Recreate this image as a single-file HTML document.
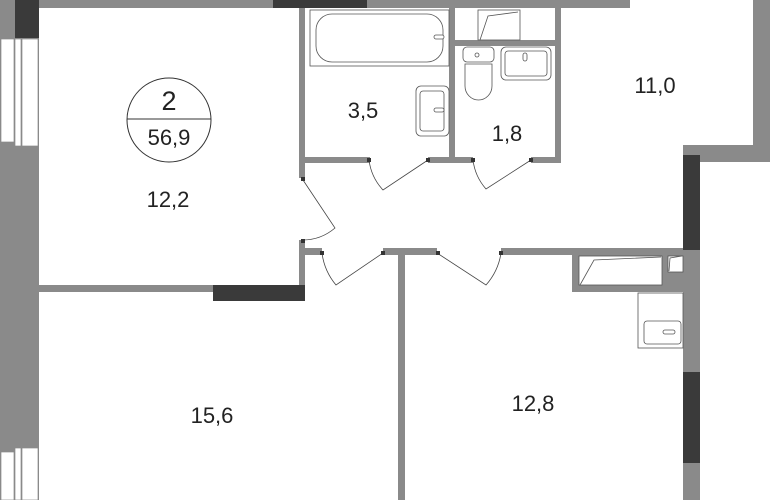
<!DOCTYPE html>
<html><head><meta charset="utf-8"><style>
html,body{margin:0;padding:0;background:#fff;}
svg{display:block;}
text{font-family:"Liberation Sans",sans-serif;fill:#222;text-anchor:middle;}
</style></head><body>
<svg width="770" height="500" viewBox="0 0 770 500">
<g fill="#8a8a8a">
<!-- left outer wall -->
<rect x="0" y="0" width="39" height="500"/>
<!-- top wall -->
<rect x="39" y="0" width="591" height="8"/>
<!-- right upper wall -->
<rect x="753" y="0" width="17" height="162"/>
<rect x="683" y="145" width="87" height="17"/>
<rect x="683" y="145" width="17" height="355"/>
<!-- wall room 12.2 / bath -->
<rect x="299" y="8" width="6" height="170"/>
<rect x="299" y="240" width="6" height="52"/>
<rect x="39" y="285" width="266" height="7"/>
<!-- bath bottom wall -->
<rect x="305" y="157" width="65" height="6"/>
<!-- bath/wc wall -->
<rect x="449" y="8" width="6" height="155"/>
<rect x="455" y="40" width="103" height="6"/>
<rect x="555" y="8" width="6" height="155"/>
<rect x="428" y="157" width="45" height="6"/>
<rect x="531" y="157" width="30" height="6"/>
<!-- corridor bottom walls -->
<rect x="299" y="248" width="23" height="7"/>
<rect x="383" y="248" width="54" height="7"/>
<rect x="501" y="248" width="199" height="7"/>
<rect x="398" y="248" width="7" height="252"/>
<!-- kitchen -->
<rect x="572" y="250" width="111" height="42"/>
</g>
<g fill="#3a3a3a">
<rect x="15" y="0" width="24" height="38"/>
<rect x="273" y="0" width="94" height="8"/>
<rect x="683" y="155" width="17" height="95"/>
<rect x="683" y="372" width="17" height="91"/>
<rect x="213" y="285" width="92" height="16"/>
</g>
<!-- windows left -->
<g fill="#fff" stroke="#8a8a8a" stroke-width="0.7">
<rect x="1" y="39" width="13" height="103"/>
<rect x="15" y="39" width="6" height="107"/>
<rect x="22" y="39" width="16" height="107"/>
<rect x="1" y="452" width="13" height="48"/>
<rect x="15" y="448" width="6" height="52"/>
<rect x="22" y="448" width="16" height="52"/>
</g>
<!-- fixtures -->
<g fill="#fff" stroke="#555" stroke-width="0.8">
<rect x="310" y="10" width="139" height="56"/>
<rect x="316" y="14" width="127" height="48" rx="16"/>
<rect x="416" y="86" width="33" height="50" rx="5"/>
<rect x="420" y="91" width="24" height="40" rx="3"/>
<rect x="478" y="10" width="42" height="30"/>
<path d="M480 40 L488 16 L518 12"/>
<rect x="463" y="47" width="31" height="15" rx="4"/>
<path d="M465 64 L492 64 L492 86 A13.5 14 0 0 1 465 86 Z"/>
<rect x="501" y="47" width="50" height="33" rx="5"/>
<rect x="505" y="51" width="42" height="25" rx="3"/>
<rect x="579" y="256" width="83" height="29"/>
<path d="M580 285 L594 260 L661 257"/>
<rect x="668" y="256" width="15" height="16"/>
<path d="M669 271 L670 258 L682 256"/>
<rect x="638" y="293" width="45" height="55"/>
<rect x="644" y="321" width="37" height="23" rx="3"/>
</g>
<g fill="#fff" stroke="#555" stroke-width="0.8">
<circle cx="477" cy="55" r="2"/>
<rect x="434" y="35" width="10" height="4" rx="2"/>
<rect x="434" y="108" width="10" height="4" rx="2"/>
<rect x="523" y="53" width="4" height="8" rx="2"/>
<rect x="663" y="330" width="12" height="4" rx="2"/>
</g>
<!-- doors -->
<g fill="none" stroke="#444" stroke-width="0.8">
<path d="M303 180 L335 228 A50 50 0 0 1 302 240"/>
<path d="M428 160 L383 190 A54 54 0 0 1 369 160"/>
<path d="M531 160 L486 189 A54 54 0 0 1 473 160"/>
<path d="M322 253 A62 62 0 0 0 336 285 L383 253"/>
<path d="M437 253 L486 285 A62 62 0 0 0 501 253"/>
</g>
<g fill="#333">
<rect x="367" y="158" width="4" height="4"/><rect x="426" y="158" width="4" height="4"/>
<rect x="471" y="158" width="4" height="4"/><rect x="529" y="158" width="4" height="4"/>
<rect x="301" y="177" width="4" height="4"/><rect x="301" y="239" width="4" height="4"/>
<rect x="320" y="251" width="4" height="4"/><rect x="381" y="251" width="4" height="4"/>
<rect x="436" y="251" width="4" height="4"/><rect x="499" y="251" width="4" height="4"/>
</g>
<!-- label circle -->
<circle cx="169" cy="120" r="42" fill="none" stroke="#333" stroke-width="1"/>
<line x1="127" y1="119" x2="211" y2="119" stroke="#333" stroke-width="1"/>
<text x="169" y="110" font-size="27">2</text>
<text x="169" y="145" font-size="22">56,9</text>
<text x="168" y="207" font-size="22">12,2</text>
<text x="363" y="118" font-size="22">3,5</text>
<text x="507" y="141" font-size="22">1,8</text>
<text x="655" y="93" font-size="22">11,0</text>
<text x="212" y="423" font-size="22">15,6</text>
<text x="533" y="411" font-size="22">12,8</text>
</svg>
</body></html>
